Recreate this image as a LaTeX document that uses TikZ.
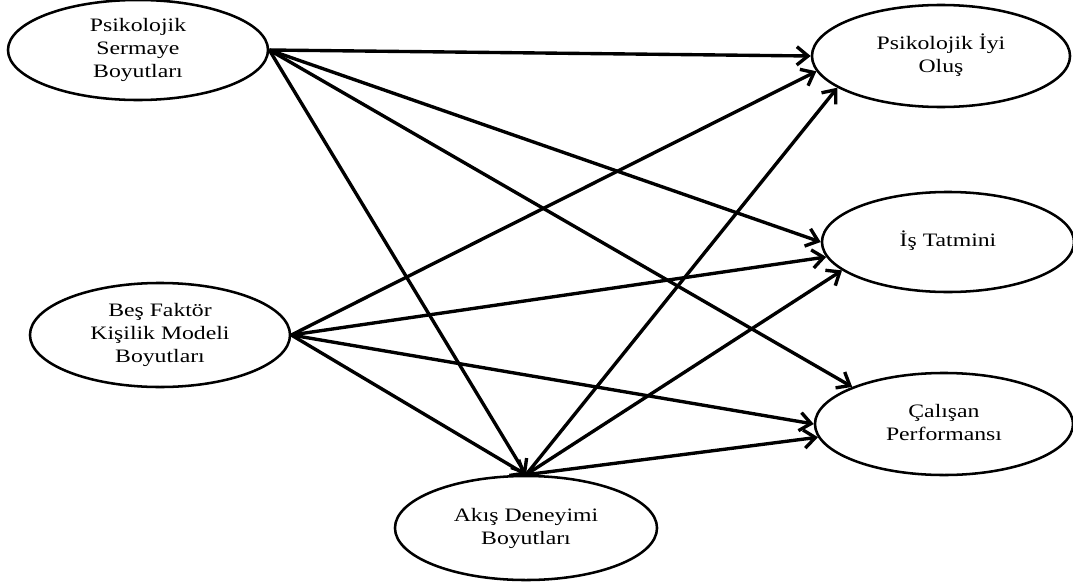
\documentclass[tikz,border=0pt]{standalone}
\usepackage{fontspec}
\setmainfont{Liberation Serif}
\usetikzlibrary{positioning,shapes.geometric,arrows.meta}
\newcommand{\genis}[1]{\scalebox{1.25}[1]{\begin{tabular}{@{}c@{}}#1\end{tabular}}}

\begin{document}
\begin{tikzpicture}[
x=0.025cm,y=-0.025cm,
oval/.style={
  draw,
  ellipse,
  line width=1.8pt,
  inner sep=0pt,
  align=center,
  font=\fontsize{13.5}{16.5}\selectfont},
yol/.style={
  -{Straight Barb[length=8pt,width=13pt]},
  line width=2.4pt}
]
\useasboundingbox (0,0) rectangle (1073,585);
\node[oval,minimum width=6.5cm,minimum height=2.5cm] (ps) at (138,50)
  {\genis{Psikolojik\\Sermaye\\Boyutları}};
\node[oval,minimum width=6.5cm,minimum height=2.6cm] (bf) at (160,335)
  {\genis{Beş Faktör\\Kişilik Modeli\\Boyutları}};
\node[oval,minimum width=6.55cm,minimum height=2.6cm] (ad) at (526,528)
  {\genis{Akış Deneyimi\\Boyutları}};
\node[oval,minimum width=6.45cm,minimum height=2.55cm] (pio) at (941,56)
  {\genis{Psikolojik İyi\\Oluş}};
\node[oval,minimum width=6.3cm,minimum height=2.5cm] (it) at (948,242)
  {\genis{İş Tatmini}};
\node[oval,minimum width=6.45cm,minimum height=2.55cm] (cp) at (944,424)
  {\genis{Çalışan\\Performansı}};
% yollar
\foreach \Kaynak/\Hedef in {ps.east/pio.180, ps.east/it.180, ps.east/cp.158,
  bf.east/pio.187, bf.east/it.187, bf.east/cp.180,
  ad.north/pio.197, ad.north/it.195, ad.north/cp.186,
  ps.east/ad.north, bf.east/ad.north}
  \draw[yol] (\Kaynak) -- (\Hedef);
\end{tikzpicture}
\end{document}
